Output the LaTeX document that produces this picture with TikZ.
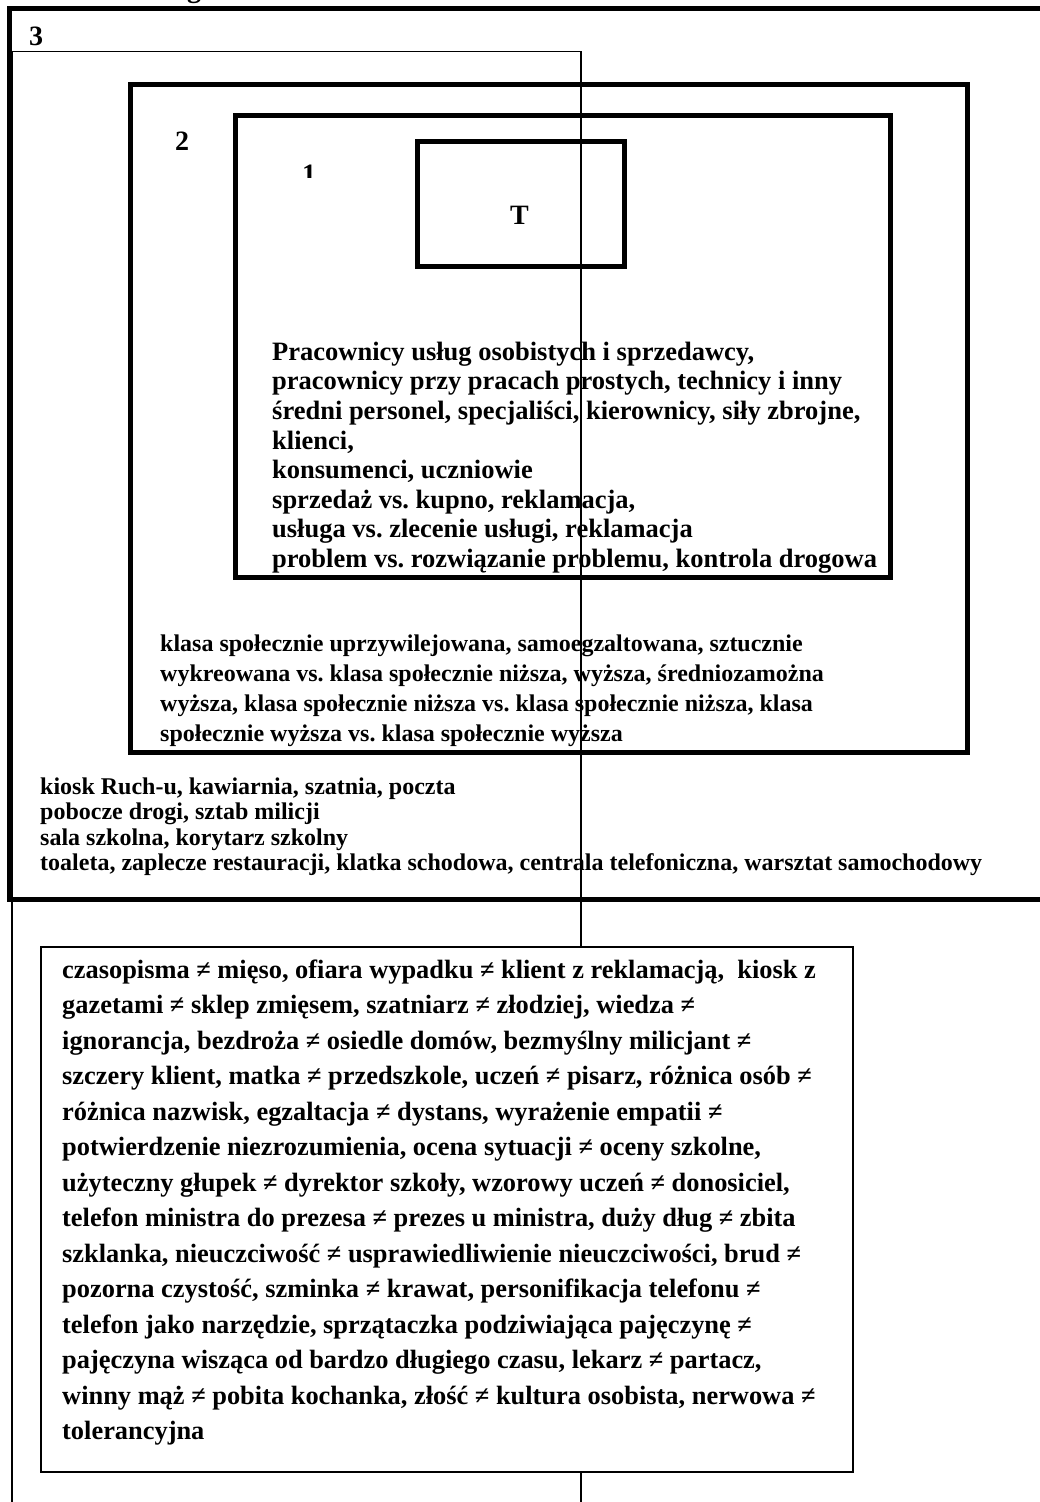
\documentclass[tikz,border=0pt]{standalone}
\usepackage{fontspec}
\setmainfont{Liberation Serif}
\frenchspacing
\tikzset{
  heavybox/.style={draw=black, line width=5pt},
  thinrule/.style={draw=black, line width=1.5pt},
  listbox/.style={draw=black, line width=1.6pt, fill=white},
  digit/.style={inner sep=0pt, anchor=base west, font=\fontsize{28}{30}\selectfont\bfseries},
  textblock/.style={inner sep=0pt, anchor=north west, align=left},
}
\begin{document}
\begin{tikzpicture}[x=1pt, y=-1pt]
\useasboundingbox (0,0) rectangle (1040,1502);
\fill[white] (0,0) rectangle (1040,1502);

% tail of the heading line above the frame
\node[digit] (heading) at (187,-3) {g};

% thin frame of zone 3 (runs down past the page)
\draw[thinrule] (12,1510) -- (12,51.7) -- (581,51.7) -- (581,1510);

% zone 3
\draw[heavybox] (1050,8) -- (9.5,8) -- (9.5,899.5) -- (1050,899.5);
% zone 2
\draw[heavybox] (130.5,84.5) rectangle (967.5,752.5);
% zone 1
\draw[heavybox] (235,115) rectangle (890,577.5);
% core T
\draw[heavybox] (417.5,141) rectangle (624,266);

% zone labels
\node[digit] (l3) at (29,45) {3};
\node[digit] (l2) at (175,150) {2};
\begin{scope}
  \clip (290,150) rectangle (330,177);
  \node[digit] (l1) at (302,183) {1};
\end{scope}
\node[digit, anchor=base] (lt) at (519.5,224) {T};

% zone 1 text
\node[textblock, font=\fontsize{26.5}{29.6}\selectfont\bfseries] (z1) at (272,339.3) {\strut Pracownicy usług osobistych i sprzedawcy,\\
pracownicy przy pracach prostych, technicy i inny\\
średni personel, specjaliści, kierownicy, siły zbrojne,\\
klienci,\\
konsumenci, uczniowie\\
sprzedaż vs. kupno, reklamacja,\\
usługa vs. zlecenie usługi, reklamacja\\
problem vs. rozwiązanie problemu, kontrola drogowa};

% zone 2 text
\node[textblock, font=\fontsize{24}{30}\selectfont\bfseries] (z2) at (160,630) {\strut klasa społecznie uprzywilejowana, samoegzaltowana, sztucznie\\
wykreowana vs. klasa społecznie niższa, wyższa, średniozamożna\\
wyższa, klasa społecznie niższa vs. klasa społecznie niższa, klasa\\
społecznie wyższa vs. klasa społecznie wyższa};

% zone 3 text
\node[textblock, font=\fontsize{24}{25.5}\selectfont\bfseries] (z3) at (40,776.15) {\strut kiosk Ruch-u, kawiarnia, szatnia, poczta\\
pobocze drogi, sztab milicji\\
sala szkolna, korytarz szkolny\\
toaleta, zaplecze restauracji, klatka schodowa, centrala telefoniczna, warsztat samochodowy};

% list of contrasts
\draw[listbox] (40.7,947) rectangle (852.7,1472);
\node[textblock, font=\fontsize{26.4}{35.5}\selectfont\bfseries] (contrasts) at (62,953.15) {\strut czasopisma ≠ mięso, ofiara wypadku ≠ klient z reklamacją, \ kiosk z\\
gazetami ≠ sklep zmięsem, szatniarz ≠ złodziej, wiedza ≠\\
ignorancja, bezdroża ≠ osiedle domów, bezmyślny milicjant ≠\\
szczery klient, matka ≠ przedszkole, uczeń ≠ pisarz, różnica osób ≠\\
różnica nazwisk, egzaltacja ≠ dystans, wyrażenie empatii ≠\\
potwierdzenie niezrozumienia, ocena sytuacji ≠ oceny szkolne,\\
użyteczny głupek ≠ dyrektor szkoły, wzorowy uczeń ≠ donosiciel,\\
telefon ministra do prezesa ≠ prezes u ministra, duży dług ≠ zbita\\
szklanka, nieuczciwość ≠ usprawiedliwienie nieuczciwości, brud ≠\\
pozorna czystość, szminka ≠ krawat, personifikacja telefonu ≠\\
telefon jako narzędzie, sprzątaczka podziwiająca pajęczynę ≠\\
pajęczyna wisząca od bardzo długiego czasu, lekarz ≠ partacz,\\
winny mąż ≠ pobita kochanka, złość ≠ kultura osobista, nerwowa ≠\\
tolerancyjna};
\end{tikzpicture}
\end{document}
